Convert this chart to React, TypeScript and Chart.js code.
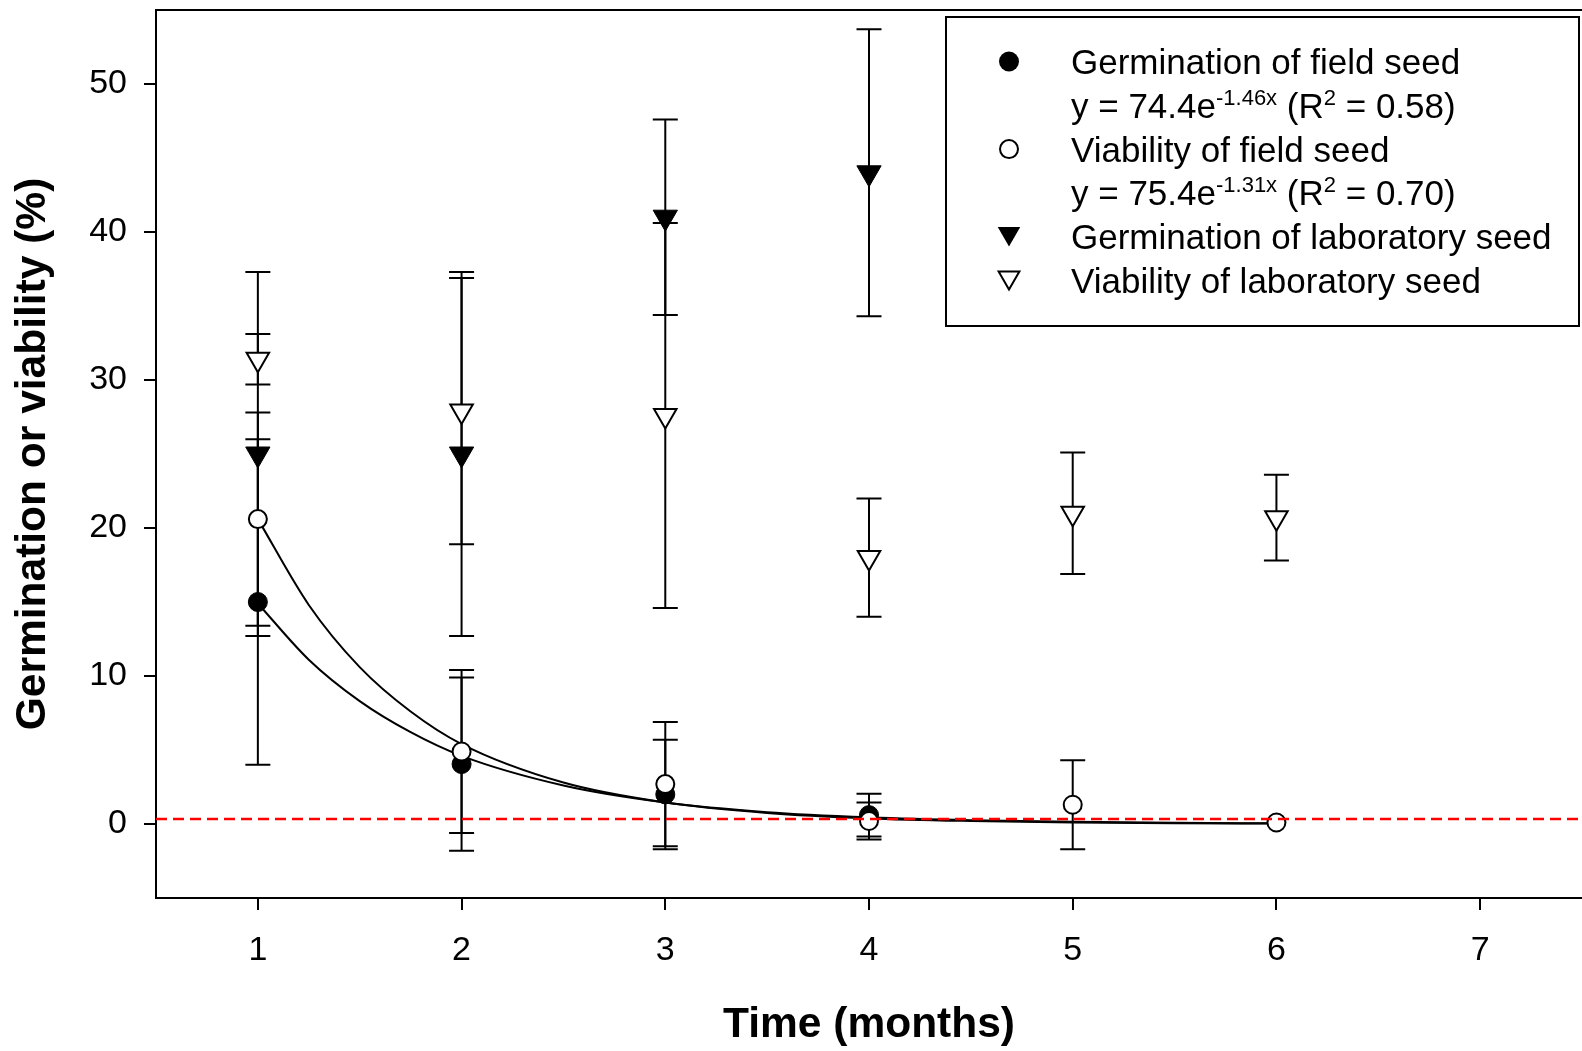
import React, { useEffect, useRef } from 'react';
import { Chart, registerables } from 'chart.js';

Chart.register(...registerables);

// ---------- data ----------
const months = [1, 2, 3, 4, 5, 6];
const germFieldMean = [15.0, 4.05, 2.0, 0.6, null, null];
const germFieldSE = [11.0, 5.85, 3.7, 1.45, null, null];
const viabFieldMean = [20.6, 4.9, 2.7, 0.2, 1.3, 0.1];
const viabFieldSE = [7.2, 5.5, 4.2, 1.25, 3.0, 0];
const germLabMean = [25.0, 25.0, 41.0, 44.0, null, null];
const germLabSE = [12.3, 12.3, 6.6, 9.7, null, null];
const viabLabMean = [31.4, 27.9, 27.6, 18.0, 21.0, 20.7];
const viabLabSE = [1.7, 9.0, 13.0, 4.0, 4.1, 2.9];

// fitted curves
const fitX = [1, 1.25, 1.5, 1.75, 2, 2.5, 3, 3.5, 4, 4.5, 5, 5.5, 6];
const germFieldFit = [14.9, 11.1, 8.3, 6.2, 4.6, 2.6, 1.45, 0.8, 0.45, 0.25, 0.15, 0.08, 0.05];
const viabFieldFit = [20.6, 14.8, 10.6, 7.6, 5.4, 2.8, 1.45, 0.75, 0.38, 0.2, 0.1, 0.05, 0.03];

const thresholdY = 0.34;

const xMin = 0.5;
const xMax = 7.5;
const yMin = -5;
const yMax = 55;
const xTicks = [1, 2, 3, 4, 5, 6, 7];
const yTicks = [0, 10, 20, 30, 40, 50];

const xTitle = 'Time (months)';
const yTitle = 'Germination or viability (%)';

const legendRows: { marker: string | null; parts: { t: string; sup?: boolean }[] }[] = [
  { marker: 'filledCircle', parts: [{ t: 'Germination of field seed' }] },
  { marker: null, parts: [{ t: 'y = 74.4e' }, { t: '-1.46x', sup: true }, { t: ' (R' }, { t: '2', sup: true }, { t: ' = 0.58)' }] },
  { marker: 'openCircle', parts: [{ t: 'Viability of field seed' }] },
  { marker: null, parts: [{ t: 'y = 75.4e' }, { t: '-1.31x', sup: true }, { t: ' (R' }, { t: '2', sup: true }, { t: ' = 0.70)' }] },
  { marker: 'filledTri', parts: [{ t: 'Germination of laboratory seed' }] },
  { marker: 'openTri', parts: [{ t: 'Viability of laboratory seed' }] },
];

// ---------- styling ----------
const FAMILY = "'Liberation Sans', Arial, Helvetica, sans-serif";
const CAP_HALF = 12.5;
const LEG = { left: 946, top: 17, width: 633, height: 309, markerX: 1009, textX: 1071, firstRow: 61.5, rowStep: 43.8 };

function buildPoints(mean: (number | null)[], se: (number | null)[]) {
  return months
    .map((m, i) => ({ x: m, y: mean[i], se: se[i] }))
    .filter((p) => p.y !== null);
}

function downTri(ctx: CanvasRenderingContext2D, x: number, y: number, r: number) {
  const s = Math.sin(Math.PI / 3) * r;
  ctx.beginPath();
  ctx.moveTo(x, y + r);
  ctx.lineTo(x - s, y - r / 2);
  ctx.lineTo(x + s, y - r / 2);
  ctx.closePath();
}

function drawLegendMarker(ctx: CanvasRenderingContext2D, kind: string, x: number, cy: number) {
  ctx.save();
  ctx.strokeStyle = '#000';
  ctx.fillStyle = '#000';
  ctx.lineWidth = 2;
  if (kind === 'filledCircle') {
    ctx.beginPath();
    ctx.arc(x, cy, 10, 0, Math.PI * 2);
    ctx.fill();
  } else if (kind === 'openCircle') {
    ctx.beginPath();
    ctx.arc(x, cy, 9, 0, Math.PI * 2);
    ctx.fillStyle = '#fff';
    ctx.fill();
    ctx.stroke();
  } else if (kind === 'filledTri') {
    const r = 13;
    downTri(ctx, x, cy - r / 4, r);
    ctx.fill();
  } else if (kind === 'openTri') {
    const r = 12;
    downTri(ctx, x, cy - r / 4, r);
    ctx.fillStyle = '#fff';
    ctx.fill();
    ctx.stroke();
  }
  ctx.restore();
}

const errorBarPlugin = {
  id: 'errorBars',
  beforeDatasetsDraw(chart: any) {
    const { ctx } = chart;
    const xs = chart.scales.x;
    const ys = chart.scales.y;
    ctx.save();
    ctx.strokeStyle = '#000';
    ctx.lineWidth = 2;
    chart.data.datasets.forEach((ds: any) => {
      if (!ds.hasErrors) return;
      ds.data.forEach((p: any) => {
        if (p.y === null || !p.se) return;
        const px = xs.getPixelForValue(p.x);
        const top = ys.getPixelForValue(p.y + p.se);
        const bot = ys.getPixelForValue(p.y - p.se);
        ctx.beginPath();
        ctx.moveTo(px, top);
        ctx.lineTo(px, bot);
        ctx.moveTo(px - CAP_HALF, top);
        ctx.lineTo(px + CAP_HALF, top);
        ctx.moveTo(px - CAP_HALF, bot);
        ctx.lineTo(px + CAP_HALF, bot);
        ctx.stroke();
      });
    });
    ctx.restore();
  },
};

const framePlugin = {
  id: 'frameAndLegend',
  afterDraw(chart: any) {
    const { ctx, chartArea } = chart;
    ctx.save();
    // top frame line
    ctx.strokeStyle = '#000';
    ctx.lineWidth = 2;
    ctx.beginPath();
    ctx.moveTo(chartArea.left - 1, chartArea.top);
    ctx.lineTo(chartArea.right, chartArea.top);
    ctx.stroke();

    // legend box
    ctx.fillStyle = '#fff';
    ctx.fillRect(LEG.left, LEG.top, LEG.width, LEG.height);
    ctx.strokeRect(LEG.left, LEG.top, LEG.width, LEG.height);

    ctx.fillStyle = '#000';
    ctx.textBaseline = 'alphabetic';
    ctx.textAlign = 'left';
    legendRows.forEach((row, i) => {
      const cy = LEG.firstRow + i * LEG.rowStep;
      if (row.marker) drawLegendMarker(ctx, row.marker, LEG.markerX, cy);
      let x = LEG.textX;
      const base = cy + 12.5;
      row.parts.forEach((p) => {
        ctx.font = p.sup ? `22px ${FAMILY}` : `35px ${FAMILY}`;
        ctx.fillStyle = '#000';
        ctx.fillText(p.t, x, p.sup ? base - 13 : base);
        x += ctx.measureText(p.t).width;
      });
    });
    ctx.restore();
  },
};

export default function App() {
  const canvasRef = useRef<HTMLCanvasElement | null>(null);

  useEffect(() => {
    document.body.style.margin = '0';
    document.body.style.overflow = 'hidden';
    const canvas = canvasRef.current;
    if (!canvas) return;

    const chart = new Chart(canvas, {
      type: 'line',
      data: {
        datasets: [
          {
            label: 'threshold',
            data: [
              { x: xMin, y: thresholdY },
              { x: xMax, y: thresholdY },
            ],
            borderColor: '#ff0000',
            borderWidth: 2.5,
            borderDash: [11, 6],
            pointRadius: 0,
            fill: false,
            order: 0,
          },
          {
            label: 'Viability of laboratory seed',
            data: buildPoints(viabLabMean, viabLabSE),
            hasErrors: true,
            showLine: false,
            pointStyle: 'triangle',
            pointRotation: 180,
            pointRadius: 13,
            pointBackgroundColor: '#fff',
            pointBorderColor: '#000',
            pointBorderWidth: 2,
            order: 1,
          } as any,
          {
            label: 'Germination of laboratory seed',
            data: buildPoints(germLabMean, germLabSE),
            hasErrors: true,
            showLine: false,
            pointStyle: 'triangle',
            pointRotation: 180,
            pointRadius: 14,
            pointBackgroundColor: '#000',
            pointBorderColor: '#000',
            pointBorderWidth: 1,
            order: 2,
          } as any,
          {
            label: 'Viability of field seed',
            data: buildPoints(viabFieldMean, viabFieldSE),
            hasErrors: true,
            showLine: false,
            pointStyle: 'circle',
            pointRadius: 9,
            pointBackgroundColor: '#fff',
            pointBorderColor: '#000',
            pointBorderWidth: 2,
            order: 3,
          } as any,
          {
            label: 'Germination of field seed',
            data: buildPoints(germFieldMean, germFieldSE),
            hasErrors: true,
            showLine: false,
            pointStyle: 'circle',
            pointRadius: 9.5,
            pointBackgroundColor: '#000',
            pointBorderColor: '#000',
            pointBorderWidth: 1,
            order: 4,
          } as any,
          {
            label: 'fit viability field',
            data: fitX.map((x, i) => ({ x, y: viabFieldFit[i] })),
            borderColor: '#000',
            borderWidth: 2,
            pointRadius: 0,
            cubicInterpolationMode: 'monotone',
            fill: false,
            order: 5,
          },
          {
            label: 'fit germination field',
            data: fitX.map((x, i) => ({ x, y: germFieldFit[i] })),
            borderColor: '#000',
            borderWidth: 2,
            pointRadius: 0,
            cubicInterpolationMode: 'monotone',
            fill: false,
            order: 6,
          },
        ],
      },
      options: {
        responsive: false,
        maintainAspectRatio: false,
        devicePixelRatio: 1,
        animation: false,
        events: [],
        layout: { autoPadding: false, padding: { top: 10, left: 0, right: 0, bottom: 0 } },
        plugins: {
          legend: { display: false },
          tooltip: { enabled: false },
        },
        scales: {
          x: {
            type: 'linear',
            position: 'bottom',
            min: xMin,
            max: xMax,
            afterBuildTicks: (s: any) => {
              s.ticks = xTicks.map((v) => ({ value: v }));
            },
            afterFit: (s: any) => {
              s.height = 153;
              s.paddingLeft = 0;
              s.paddingRight = 0;
            },
            grid: { drawOnChartArea: false, drawTicks: true, tickLength: 12, color: '#000', lineWidth: 2 },
            border: { display: true, color: '#000', width: 2 },
            ticks: {
              color: '#000',
              font: { size: 34, family: FAMILY },
              padding: 20,
              maxRotation: 0,
              autoSkip: false,
            },
            title: {
              display: true,
              text: xTitle,
              color: '#000',
              font: { size: 42.5, weight: 'bold', family: FAMILY },
              padding: { top: 0, bottom: 0 },
            },
          },
          y: {
            type: 'linear',
            position: 'left',
            min: yMin,
            max: yMax,
            afterBuildTicks: (s: any) => {
              s.ticks = yTicks.map((v) => ({ value: v }));
            },
            afterFit: (s: any) => {
              s.width = 156;
              s.paddingTop = 0;
              s.paddingBottom = 0;
            },
            grid: { drawOnChartArea: false, drawTicks: true, tickLength: 12, color: '#000', lineWidth: 2 },
            border: { display: true, color: '#000', width: 2 },
            ticks: {
              color: '#000',
              font: { size: 34, family: FAMILY },
              padding: 17,
            },
            title: {
              display: true,
              text: yTitle,
              color: '#000',
              font: { size: 42.5, weight: 'bold', family: FAMILY },
              padding: { top: 8, bottom: 0 },
            },
          },
        },
      } as any,
      plugins: [errorBarPlugin, framePlugin],
    });

    return () => {
      chart.destroy();
    };
  }, []);

  return (
    <canvas
      ref={canvasRef}
      width={1582}
      height={1051}
      style={{ position: 'fixed', left: 0, top: 0, width: 1582, height: 1051, background: '#fff' }}
    />
  );
}
